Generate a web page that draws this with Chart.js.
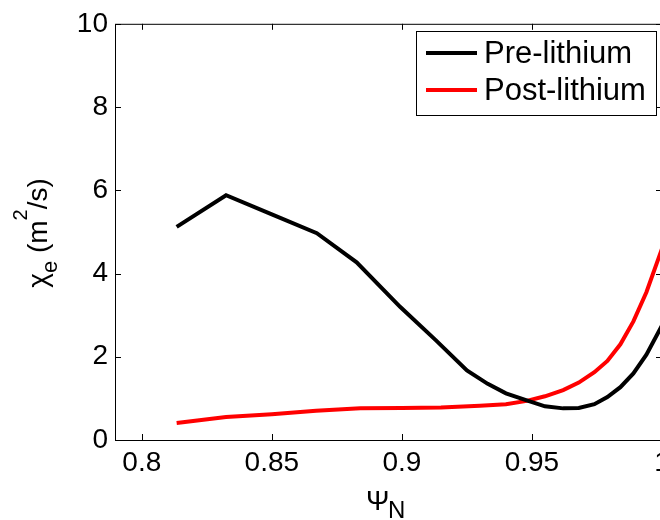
<!DOCTYPE html>
<html lang="en">
<head>
  <meta charset="UTF-8">
  <title>Electron thermal diffusivity</title>
  <style>
    body {
      margin: 0;
      padding: 0;
      background: #ffffff;
      overflow: hidden;
    }
    .wrap {
      width: 680px;
      height: 520px;
    }
  </style>
</head>
<body>
  <div class="wrap">
    <canvas id="chart" width="680" height="520"></canvas>
  </div>
  <script src="https://cdn.jsdelivr.net/npm/chart.js"></script>
  <script>
    // psi_N positions and chi_e values
    const preX = [0.8134, 0.8324, 0.85, 0.8673, 0.8826, 0.8993, 0.913, 0.925, 0.933, 0.94, 0.948, 0.955, 0.962, 0.968, 0.974, 0.979, 0.984, 0.989, 0.994, 1.0];
    const preY = [5.12, 5.88, 5.42, 4.97, 4.27, 3.2, 2.4, 1.67, 1.35, 1.12, 0.95, 0.81, 0.76, 0.77, 0.86, 1.03, 1.27, 1.6, 2.05, 2.75];
    const postX = [0.8134, 0.8324, 0.85, 0.867, 0.884, 0.9, 0.915, 0.93, 0.94, 0.948, 0.955, 0.962, 0.968, 0.974, 0.979, 0.984, 0.989, 0.994, 1.0];
    const postY = [0.41, 0.55, 0.62, 0.7, 0.76, 0.77, 0.78, 0.82, 0.86, 0.94, 1.05, 1.2, 1.38, 1.63, 1.9, 2.3, 2.85, 3.55, 4.6];
    const seriesNames = ['Pre-lithium', 'Post-lithium'];
    const xTicks = [0.8, 0.85, 0.9, 0.95, 1];
    const yTicks = [0, 2, 4, 6, 8, 10];

    const FONT = '"Liberation Sans", Arial, sans-serif';

    function toPoints(xs, ys) {
      return xs.map((x, i) => ({ x: x, y: ys[i] }));
    }

    // box around the plot with inward tick marks, matlab style
    const boxPlugin = {
      id: 'box',
      afterDraw(chart) {
        const ctx = chart.ctx;
        const a = chart.chartArea;
        const xs = chart.scales.x;
        const ys = chart.scales.y;
        const len = 6;
        ctx.save();
        ctx.strokeStyle = '#000';
        ctx.lineWidth = 1;
        ctx.strokeRect(a.left + 0.5, a.top + 0.5, a.right - a.left, a.bottom - a.top);
        ctx.beginPath();
        xs.ticks.forEach(t => {
          const px = Math.round(xs.getPixelForValue(t.value)) + 0.5;
          ctx.moveTo(px, a.bottom); ctx.lineTo(px, a.bottom - len);
          ctx.moveTo(px, a.top); ctx.lineTo(px, a.top + len);
        });
        ys.ticks.forEach(t => {
          const py = Math.round(ys.getPixelForValue(t.value)) + 0.5;
          ctx.moveTo(a.left, py); ctx.lineTo(a.left + len, py);
          ctx.moveTo(a.right, py); ctx.lineTo(a.right - len, py);
        });
        ctx.stroke();
        ctx.restore();
      }
    };

    // axis titles with sub/superscripts
    const titlePlugin = {
      id: 'titles',
      afterDraw(chart) {
        const ctx = chart.ctx;
        ctx.save();
        ctx.fillStyle = '#000';
        ctx.textBaseline = 'alphabetic';
        ctx.textAlign = 'left';

        const parts = [
          { t: '\u03c7', size: 28, dy: 0 },
          { t: 'e', size: 22, dy: 10 },
          { t: ' (m', size: 28, dy: 0 },
          { t: '2', size: 20, dy: -20 },
          { t: '/s)', size: 28, dy: 0 }
        ];
        let total = 0;
        parts.forEach(p => {
          ctx.font = p.size + 'px ' + FONT;
          p.w = ctx.measureText(p.t).width;
          total += p.w;
        });
        ctx.translate(47, 233);
        ctx.rotate(-Math.PI / 2);
        let x = -total / 2;
        parts.forEach(p => {
          ctx.font = p.size + 'px ' + FONT;
          ctx.fillText(p.t, x, p.dy);
          x += p.w;
        });
        ctx.restore();

        ctx.save();
        ctx.fillStyle = '#000';
        ctx.font = '28px ' + FONT;
        ctx.fillText('\u03a8', 366, 510);
        ctx.font = '24px ' + FONT;
        ctx.fillText('N', 388, 518);
        ctx.restore();
      }
    };

    // legend box inside the top right corner
    const legendPlugin = {
      id: 'boxLegend',
      afterDraw(chart) {
        const ctx = chart.ctx;
        const bx = 416, by = 31, bw = 240, bh = 84;
        ctx.save();
        ctx.fillStyle = '#fff';
        ctx.fillRect(bx, by, bw, bh);
        ctx.strokeStyle = '#000';
        ctx.lineWidth = 1;
        ctx.strokeRect(bx + 0.5, by + 0.5, bw, bh);
        ctx.font = '31px ' + FONT;
        ctx.textBaseline = 'middle';
        chart.data.datasets.forEach((ds, i) => {
          const y = by + 22 + i * 37;
          ctx.strokeStyle = ds.borderColor;
          ctx.lineWidth = 4;
          ctx.beginPath();
          ctx.moveTo(bx + 10, y);
          ctx.lineTo(bx + 61, y);
          ctx.stroke();
          ctx.fillStyle = '#000';
          ctx.fillText(ds.label, bx + 68, y + 1);
        });
        ctx.restore();
      }
    };

    new Chart(document.getElementById('chart'), {
      type: 'line',
      data: {
        datasets: [{
          label: seriesNames[0],
          data: toPoints(preX, preY),
          borderColor: '#000000',
          borderWidth: 4,
          pointRadius: 0,
          fill: false,
          tension: 0
        }, {
          label: seriesNames[1],
          data: toPoints(postX, postY),
          borderColor: '#ff0000',
          borderWidth: 4,
          pointRadius: 0,
          fill: false,
          tension: 0
        }]
      },
      options: {
        responsive: false,
        animation: false,
        layout: { padding: { left: 0, top: 22, right: 18, bottom: 0 } },
        plugins: {
          legend: { display: false },
          tooltip: { enabled: false }
        },
        scales: {
          x: {
            type: 'linear',
            min: 0.7897,
            max: 1.0,
            grid: { display: false, drawTicks: false },
            border: { display: false },
            afterBuildTicks: s => { s.ticks = xTicks.map(v => ({ value: v })); },
            afterFit: s => { s.height = 80; },
            ticks: {
              color: '#000',
              padding: 6,
              maxRotation: 0,
              font: { family: FONT, size: 28 },
              callback: v => String(v)
            }
          },
          y: {
            min: 0,
            max: 10,
            grid: { display: false, drawTicks: false },
            border: { display: false },
            afterBuildTicks: s => { s.ticks = yTicks.map(v => ({ value: v })); },
            afterFit: s => { s.width = 115; },
            ticks: {
              color: '#000',
              padding: 7,
              font: { family: FONT, size: 28 },
              callback: v => String(v)
            }
          }
        }
      },
      plugins: [boxPlugin, titlePlugin, legendPlugin]
    });
  </script>
</body>
</html>
